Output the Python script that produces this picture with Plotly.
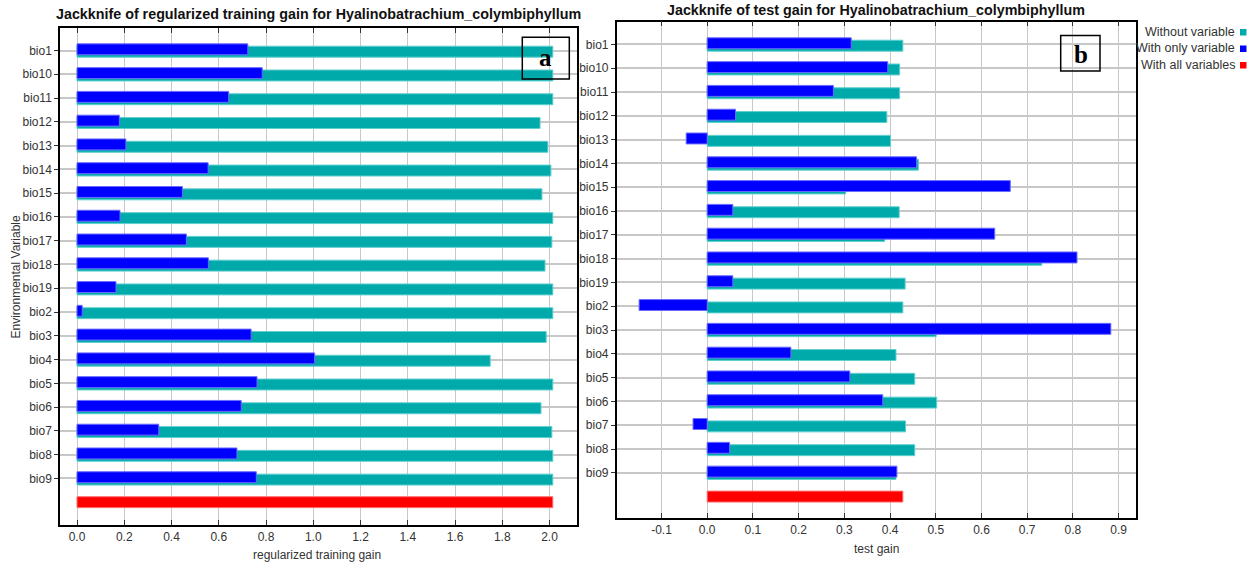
import plotly.graph_objects as go

W, H = 1258, 566

variables = ["bio1", "bio10", "bio11", "bio12", "bio13", "bio14", "bio15", "bio16",
             "bio17", "bio18", "bio19", "bio2", "bio3", "bio4", "bio5", "bio6",
             "bio7", "bio8", "bio9"]

# regularized training gain
train_without = [2.014, 2.014, 2.014, 1.960, 1.993, 2.006, 1.968, 2.014, 2.010, 1.981,
                 2.014, 2.014, 1.986, 1.749, 2.014, 1.964, 2.010, 2.014, 2.014]
train_only = [0.723, 0.784, 0.642, 0.179, 0.207, 0.555, 0.446, 0.182, 0.463, 0.556,
              0.165, 0.022, 0.737, 1.006, 0.762, 0.695, 0.346, 0.677, 0.759]
train_all = 2.014

# test gain
test_without = [0.428, 0.421, 0.421, 0.393, 0.401, 0.462, 0.303, 0.420, 0.388, 0.732,
                0.433, 0.428, 0.501, 0.413, 0.454, 0.502, 0.434, 0.454, 0.413]
test_only = [0.315, 0.395, 0.276, 0.062, -0.046, 0.458, 0.663, 0.056, 0.629, 0.809,
             0.056, -0.149, 0.883, 0.183, 0.312, 0.384, -0.031, 0.049, 0.415]
test_all = 0.428

train_ticks = [0.0, 0.2, 0.4, 0.6, 0.8, 1.0, 1.2, 1.4, 1.6, 1.8, 2.0]
test_ticks = [-0.1, 0.0, 0.1, 0.2, 0.3, 0.4, 0.5, 0.6, 0.7, 0.8, 0.9]

legend_labels = ["Without variable", "With only variable", "With all variables"]

TEAL = "#00AAAA"
TEAL_EDGE = "#5fcfcf"
BLUE = "#0000FF"
BLUE_EDGE = "#6b6bff"
RED = "#FF0000"
RED_EDGE = "#ff7070"

FONT = "Liberation Sans, Arial, sans-serif"
TXT = "#333333"

rows = list(range(len(variables)))
all_row = len(variables)
BW = 0.46


def px(x):
    return x / W


def py(y):
    return 1 - y / H


fig = go.Figure()


def add_panel(without, only, allv, xa, ya):
    fig.add_trace(go.Bar(x=without, y=rows, orientation="h", width=BW, offset=-0.18,
                         marker=dict(color=TEAL, line=dict(color=TEAL_EDGE, width=1)),
                         xaxis=xa, yaxis=ya, showlegend=False, hoverinfo="x+y"))
    fig.add_trace(go.Bar(x=only, y=rows, orientation="h", width=BW, offset=-0.28,
                         marker=dict(color=BLUE, line=dict(color=BLUE_EDGE, width=1)),
                         xaxis=xa, yaxis=ya, showlegend=False, hoverinfo="x+y"))
    fig.add_trace(go.Bar(x=[allv], y=[all_row], orientation="h", width=BW, offset=-0.23,
                         marker=dict(color=RED, line=dict(color=RED_EDGE, width=1)),
                         xaxis=xa, yaxis=ya, showlegend=False, hoverinfo="x+y"))


add_panel(train_without, train_only, train_all, "x", "y")
add_panel(test_without, test_only, test_all, "x2", "y2")

GRID = "#c8c8c8"
common_x = dict(showgrid=True, gridcolor=GRID, gridwidth=1, zeroline=False,
                showline=True, linecolor="black", linewidth=1.5, mirror="ticks",
                ticks="inside", ticklen=5, tickcolor="#333", tickwidth=1,
                tickfont=dict(family=FONT, size=12, color=TXT), fixedrange=True)
common_y = dict(showgrid=True, gridcolor=GRID, gridwidth=1.5, zeroline=False,
                showline=True, linecolor="black", linewidth=1.5, mirror=True,
                ticks="outside", ticklen=4, tickcolor="#333", tickwidth=1,
                tickvals=rows, ticktext=variables,
                tickfont=dict(family=FONT, size=12, color=TXT), fixedrange=True)

left_x = [px(60), px(577)]
left_y = [py(525), py(28)]
right_x = [px(616.7), px(1135.7)]
right_y = [py(518), py(21.7)]

fig.update_layout(
    width=W, height=H,
    margin=dict(l=0, r=0, t=0, b=0),
    paper_bgcolor="white", plot_bgcolor="white",
    barmode="overlay",
    font=dict(family=FONT, size=12, color=TXT),
    xaxis=dict(common_x, domain=left_x, anchor="y", range=[-0.072, 2.1164],
               tickvals=train_ticks, ticktext=[f"{v:.1f}" for v in train_ticks]),
    yaxis=dict(common_y, domain=left_y, anchor="x", range=[19.96, -0.947]),
    xaxis2=dict(common_x, domain=right_x, anchor="y2", range=[-0.198, 0.9374],
                tickvals=test_ticks, ticktext=[f"{v:.1f}" for v in test_ticks]),
    yaxis2=dict(common_y, domain=right_y, anchor="x2", range=[19.9, -0.958]),
    yaxis3=dict(overlaying="y", side="right", anchor="x", range=[19.96, -0.947],
                showgrid=False, zeroline=False, showticklabels=False,
                ticks="inside", ticklen=5, tickcolor="#333", tickvals=rows, fixedrange=True),
    yaxis4=dict(overlaying="y2", side="right", anchor="x2", range=[19.9, -0.958],
                showgrid=False, zeroline=False, showticklabels=False,
                ticks="inside", ticklen=5, tickcolor="#333", tickvals=rows, fixedrange=True),
)

ann = []
# titles
ann.append(dict(text="<b>Jackknife of regularized training gain for Hyalinobatrachium_colymbiphyllum</b>",
                x=px(318.5), y=py(14), xref="paper", yref="paper", showarrow=False,
                xanchor="center", yanchor="middle",
                font=dict(family=FONT, size=14.3, color="#111")))
ann.append(dict(text="<b>Jackknife of test gain for Hyalinobatrachium_colymbiphyllum</b>",
                x=px(876), y=py(10), xref="paper", yref="paper", showarrow=False,
                xanchor="center", yanchor="middle",
                font=dict(family=FONT, size=14.3, color="#111")))
# axis titles
ann.append(dict(text="regularized training gain", x=px(317), y=py(555), xref="paper", yref="paper",
                showarrow=False, xanchor="center", yanchor="middle",
                font=dict(family=FONT, size=12, color=TXT)))
ann.append(dict(text="test gain", x=px(876), y=py(549), xref="paper", yref="paper",
                showarrow=False, xanchor="center", yanchor="middle",
                font=dict(family=FONT, size=12, color=TXT)))
ann.append(dict(text="Environmental Variable", x=px(15.5), y=py(277), xref="paper", yref="paper",
                showarrow=False, xanchor="center", yanchor="middle", textangle=-90,
                font=dict(family=FONT, size=12, color=TXT)))
# panel letters
ann.append(dict(text="<b>a</b>", x=px(545.5), y=py(57), xref="paper", yref="paper",
                showarrow=False, xanchor="center", yanchor="middle",
                font=dict(family="Liberation Serif, Times New Roman, serif", size=25, color="black")))
ann.append(dict(text="<b>b</b>", x=px(1080.5), y=py(54), xref="paper", yref="paper",
                showarrow=False, xanchor="center", yanchor="middle",
                font=dict(family="Liberation Serif, Times New Roman, serif", size=25, color="black")))

shapes = []
shapes.append(dict(type="rect", xref="paper", yref="paper", x0=px(522.3), x1=px(569.3),
                   y0=py(79), y1=py(37.3), line=dict(color="black", width=1.5),
                   fillcolor="rgba(0,0,0,0)", layer="above"))
shapes.append(dict(type="rect", xref="paper", yref="paper", x0=px(1060.7), x1=px(1100),
                   y0=py(71), y1=py(35.5), line=dict(color="black", width=1.5),
                   fillcolor="rgba(0,0,0,0)", layer="above"))

# legend (text right-aligned, square marker on the right)
leg_colors = [TEAL, BLUE, RED]
leg_y = [32, 48.5, 65]
for lab, col, yy in zip(legend_labels, leg_colors, leg_y):
    ann.append(dict(text=lab, x=px(1237), y=py(yy), xref="paper", yref="paper",
                    showarrow=False, xanchor="right", yanchor="middle",
                    font=dict(family=FONT, size=12.5, color=TXT)))
    shapes.append(dict(type="rect", xref="paper", yref="paper", x0=px(1240), x1=px(1246.5),
                       y0=py(yy + 3.5), y1=py(yy - 3), line=dict(width=0), fillcolor=col))

fig.update_layout(annotations=ann, shapes=shapes)

fig.write_html("out.html", config={"displayModeBar": False},
               post_script="document.body.style.margin='0';document.body.style.overflow='hidden';")
